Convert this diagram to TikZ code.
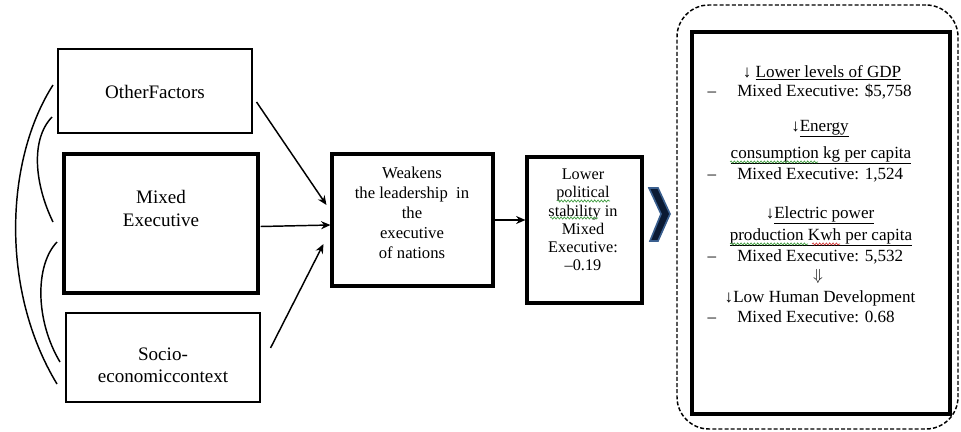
\documentclass[tikz,border=0pt]{standalone}
\usepackage{fontspec}
\setmainfont{Liberation Serif}
\usetikzlibrary{arrows.meta,decorations.pathmorphing}
\newdimen\pxu \pxu=0.75pt
\definecolor{chevfill}{HTML}{0B1A33}
\definecolor{chevedge}{HTML}{3A5F8F}
\definecolor{squiggreen}{HTML}{3C9A3C}
\definecolor{squigred}{HTML}{D03030}
\begin{document}
\begin{tikzpicture}[x=0.75pt,y=-0.75pt,
  thinbox/.style={draw, line width=0.8pt, inner sep=0pt},
  thickbox/.style={draw, line width=2.3pt, inner sep=0pt},
  txtl/.style={align=center, inner sep=0pt, font=\fontsize{14.3}{16.8}\selectfont},
  txt/.style={align=center, inner sep=0pt, font=\fontsize{12.5}{15}\selectfont},
  txtb/.style={align=center, inner sep=0pt, font=\fontsize{12.2}{13.7}\selectfont},
  rt/.style={anchor=base, inner sep=0pt, font=\fontsize{12.8}{14}\selectfont},
  rtl/.style={anchor=base west, inner sep=0pt, font=\fontsize{12.8}{14}\selectfont},
  arr/.style={line width=1.1pt, -{Stealth[length=7pt,width=6pt]}},
  curve/.style={line width=1.1pt},
  squig/.style={draw=#1, line width=0.5pt, decorate, decoration={snake, amplitude=0.8pt, segment length=2.5pt}}
]
\useasboundingbox (0,0) rectangle (961,432);

% left boxes
\node[thinbox, minimum width=194\pxu, minimum height=84\pxu] (other) at (155,91) {};
\node[txtl] (othertxt) at (155,92) {OtherFactors};
\node[thickbox, minimum width=194\pxu, minimum height=139\pxu] (mixed) at (161,223.5) {};
\node[txtl] (mixedtxt) at (161,208.5) {Mixed\\Executive};
\node[thinbox, minimum width=194\pxu, minimum height=89\pxu] (socio) at (163,357.5) {};
\node[txtl] (sociotxt) at (163,365) {Socio-\\economiccontext};

% middle boxes
\node[thickbox, minimum width=161\pxu, minimum height=132\pxu] (weak) at (412.5,220) {};
\node[txt] (weaktxt) at (412,213) {Weakens\\the leadership\ \ in\\the\\executive\\of nations};
\node[thickbox, minimum width=115\pxu, minimum height=146\pxu] (lower) at (584.5,230) {};
\node[txtb] (lowertxt) at (583,220) {Lower\\political\\stability in\\Mixed\\Executive:\\–0.19};

% spell-check squiggles
\draw[squig=squiggreen] (557,201) -- (610,201);
\draw[squig=squiggreen] (550,218) -- (598,218);

% left curves
\draw[curve] (53,85) .. controls (5,160) and (0,290) .. (57,384);
\draw[curve] (52,117) .. controls (30,140) and (35,185) .. (53,222);
\draw[curve] (57,242) .. controls (35,265) and (35,320) .. (60,362);

% arrows
\draw[arr] ([shift={(4,11)}]other.east) -- ([shift={(-4,-15)}]weak.west);
\draw[arr] ([shift={(1,3)}]mixed.east) -- ([shift={(0,5)}]weak.west);
\draw[arr] ([shift={(10,-9.5)}]socio.east) -- ([shift={(-7,24)}]weak.west);
\draw[arr] (weak.east) -- (weak.east -| lower.west);

% chevron
\draw[fill=chevfill, draw=chevedge, line width=1.2pt, line join=miter]
  (649,188) -- (658,188) -- (670,214) -- (658,241) -- (650,241) -- (661,214) -- cycle;

% right dashed group
\node[draw, line width=1.1pt, dash pattern=on 3pt off 1.6pt, rounded corners=24pt,
      minimum width=281\pxu, minimum height=424\pxu, inner sep=0pt] (group) at (817.5,217) {};
\node[thickbox, minimum width=258\pxu, minimum height=382\pxu] (effects) at (821,223) {};

% right texts
\node[rt] (g1) at (822,77) {↓ \underline{Lower levels of GDP}};
\node[rt] (d1) at (712,96) {–};
\node[rtl] (m1) at (737,96) {Mixed Executive: \$5,758};
\node[rt] (e1) at (820,131) {↓\underline{Energy}};
\node[rt] (e2) at (821,158) {\underline{consumption kg per capita}};
\node[rt] (d2) at (712,179) {–};
\node[rtl] (m2) at (737,179) {Mixed Executive: 1,524};
\node[rt] (p1) at (820,218) {↓\underline{Electric power}};
\node[rt] (p2) at (821,240) {\underline{production Kwh per capita}};
\node[rt] (d3) at (712,261) {–};
\node[rtl] (m3) at (737,261) {Mixed Executive: 5,532};
\node[inner sep=0pt, font=\large] (dd) at (818,276) {$\Downarrow$};
\node[rt] (h1) at (820,302) {↓Low Human Development};
\node[rt] (d4) at (712,322) {–};
\node[rtl] (m4) at (737,322) {Mixed Executive: 0.68};

\draw[squig=squiggreen] (730,162) -- (818,162);
\draw[squig=squiggreen] (730,244) -- (808,244);
\draw[squig=squigred] (812,244) -- (840,244);
\end{tikzpicture}
\end{document}
